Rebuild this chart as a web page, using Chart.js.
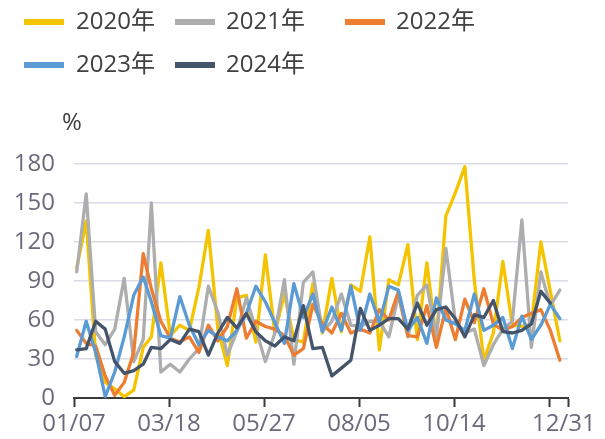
<!DOCTYPE html>
<html>
<head>
<meta charset="utf-8">
<script src="https://cdn.jsdelivr.net/npm/chart.js@4/dist/chart.umd.min.js"></script>
<style>
html,body{margin:0;padding:0;background:#ffffff;}
#wrap{position:relative;width:605px;height:439px;}
</style>
</head>
<body>
<div id="wrap"><canvas id="c" width="605" height="439"></canvas></div>
<script>
// ---- data ----
const weekDates = ["01/09","01/16","01/23","01/30","02/06","02/13","02/20","02/27","03/05","03/12",
  "03/19","03/26","04/02","04/09","04/16","04/23","04/30","05/07","05/14","05/21",
  "05/28","06/04","06/11","06/18","06/25","07/02","07/09","07/16","07/23","07/30",
  "08/06","08/13","08/20","08/27","09/03","09/10","09/17","09/24","10/01","10/08",
  "10/15","10/22","10/29","11/05","11/12","11/19","11/26","12/03","12/10","12/17",
  "12/24","12/31"];
const tickDates = ["01/07","03/18","05/27","08/05","10/14","12/23"];
const tickLabels = ["01/07","03/18","05/27","08/05","10/14",""];
const endLabel = "12/31";
const yTicks = [0,30,60,90,120,150,180];
const seriesNames = ["2020年","2021年","2022年","2023年","2024年"];

const s2020 = [100,136,33,12,7,1,6,39,47,104, 48,56,52,85,129,53,25,77,79,43,
  110,50,80,45,43,88,50,92,51,87, 82,124,37,91,87,118,45,104,45,140,
  158,178,90,29,50,105,56,55,57,120, 82,44];
const s2021 = [97,157,51,41,53,92,28,45,150,20, 26,20,30,38,86,66,33,51,77,53,
  28,50,91,26,89,97,51,59,80,56, 55,59,59,47,79,47,79,87,47,115,
  59,50,53,25,41,53,59,137,39,97, 71,83];
const s2022 = [52,42,40,17,2,12,35,111,84,59, 46,43,47,35,56,44,55,84,46,59,
  55,53,48,33,38,72,57,50,65,50, 53,50,68,60,82,48,47,71,39,69,
  45,76,58,84,57,52,55,62,65,68, 52,29];
const s2023 = [32,59,35,1,20,47,79,93,74,48, 46,78,56,41,52,47,44,52,65,86,
  74,58,42,88,62,80,51,70,52,86, 52,80,58,86,83,52,62,42,77,60,
  57,52,80,52,56,62,38,63,45,56, 72,61];
const s2024 = [37,38,59,53,28,19,21,26,39,38, 45,42,53,51,33,50,62,54,65,51,
  44,40,47,44,71,38,39,17,23,29, 69,52,56,61,61,53,73,56,68,70,
  61,47,64,62,75,51,50,52,57,82, 73,null];

const colors = ["#F4C400","#ADADAD","#ED7D31","#5B9BD5","#44546A"];
const allSeries = [s2020,s2021,s2022,s2023,s2024];

// ---- helpers ----
const cumDays = [0,31,59,90,120,151,181,212,243,273,304,334];
function dayOffset(md){
  const p = md.split('/').map(Number);
  return cumDays[p[0]-1] + p[1] - 7;
}
const xMax = dayOffset(endLabel) + 6;
const endLabelPos = dayOffset(endLabel) + 3;

Chart.defaults.font.family = "'Open Sans','Noto Sans CJK SC',sans-serif";

const datasets = allSeries.map((vals, k) => ({
  label: seriesNames[k],
  data: vals.map((v, i) => ({x: dayOffset(weekDates[i]), y: v})),
  borderColor: colors[k],
  backgroundColor: colors[k],
  borderWidth: 3.3,
  pointRadius: 0,
  tension: 0,
  borderJoinStyle: 'round',
  borderCapStyle: 'round',
  spanGaps: false,
  order: allSeries.length - k
}));

const legendPos = [
  {bx:24, tx:76, y:22},
  {bx:175, tx:226, y:22},
  {bx:345, tx:396, y:22},
  {bx:24, tx:76, y:65},
  {bx:175, tx:226, y:65}
];

const extras = {
  id: 'extras',
  afterDraw(chart){
    const ctx = chart.ctx;
    ctx.save();
    ctx.font = "24px 'Open Sans','Noto Sans CJK SC',sans-serif";
    ctx.textBaseline = 'middle';
    ctx.textAlign = 'left';
    seriesNames.forEach((name, k) => {
      const p = legendPos[k];
      ctx.fillStyle = colors[k];
      ctx.fillRect(p.bx, p.y - 3, 40, 6);
      ctx.fillStyle = '#404040';
      ctx.fillText(name, p.tx, p.y);
    });
    ctx.fillStyle = '#404040';
    ctx.fillText('%', 62, 123);
    ctx.restore();
  }
};

new Chart(document.getElementById('c'), {
  type: 'line',
  data: {datasets},
  plugins: [extras],
  options: {
    responsive: false,
    animation: false,
    devicePixelRatio: 1,
    layout: {padding: {top: 164, left: 0, right: 37, bottom: 0}},
    plugins: {legend: {display: false}, tooltip: {enabled: false}},
    scales: {
      x: {
        type: 'linear',
        min: 0,
        max: xMax,
        afterFit(s){ s.height = 41; },
        afterBuildTicks(s){
          s.ticks = tickDates.map(d => ({value: dayOffset(d)}))
            .concat([{value: endLabelPos}, {value: xMax}]);
        },
        ticks: {
          autoSkip: false,
          maxRotation: 0,
          padding: 3,
          color: '#6A6A7A',
          font: {size: 24},
          callback: (v, i) => i < tickLabels.length ? tickLabels[i] : (i === tickLabels.length ? endLabel : '')
        },
        grid: {
          display: true, drawOnChartArea: false, drawTicks: true, tickLength: 9, tickWidth: 2,
          tickColor: (c) => (c.index === tickLabels.length ? 'rgba(0,0,0,0)' : '#3A3A3A')
        },
        border: {display: true, color: '#3A3A3A', width: 2}
      },
      y: {
        min: 0,
        max: 180,
        afterFit(s){ s.width = 74; },
        afterBuildTicks(s){ s.ticks = yTicks.map(v => ({value: v})); },
        ticks: {padding: 19, color: '#6A6A7A', font: {size: 24}},
        grid: {color: '#D9DCE8', lineWidth: 1.5, drawTicks: false},
        border: {display: false}
      }
    }
  }
});
</script>
</body>
</html>
